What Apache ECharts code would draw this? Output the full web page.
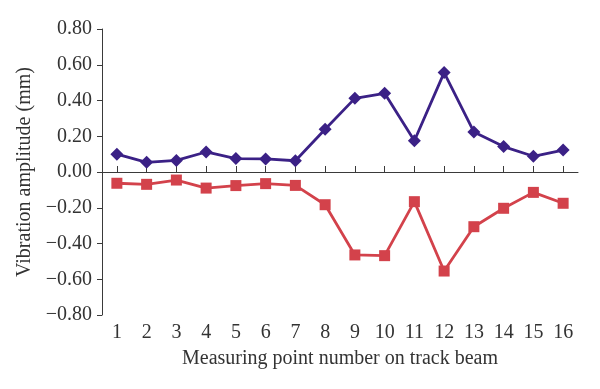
<!DOCTYPE html>
<html>
<head>
<meta charset="utf-8">
<script src="https://cdn.jsdelivr.net/npm/echarts@6/dist/echarts.min.js"></script>
<style>html,body{margin:0;padding:0;background:#fff}#c{width:600px;height:389px}</style>
</head>
<body>
<div id="c"></div>
<script>
var categories = ['1','2','3','4','5','6','7','8','9','10','11','12','13','14','15','16'];
var upperValues = [0.100, 0.054, 0.065, 0.112, 0.075, 0.073, 0.063, 0.239, 0.412, 0.440, 0.175, 0.556, 0.224, 0.142, 0.088, 0.123];
var lowerValues = [-0.063, -0.069, -0.045, -0.090, -0.076, -0.065, -0.075, -0.183, -0.464, -0.468, -0.166, -0.554, -0.306, -0.203, -0.114, -0.175];
var xTitle = 'Measuring point number on track beam';
var yTitle = 'Vibration amplitude (mm)';

var font = '"Liberation Serif", "DejaVu Serif", serif';
var chart = echarts.init(document.getElementById('c'), null, {renderer: 'canvas'});
chart.setOption({
  animation: false,
  backgroundColor: '#ffffff',
  grid: {left: 102, right: 22, top: 29, bottom: 74, containLabel: false},
  xAxis: [{
    type: 'category',
    data: categories,
    boundaryGap: true,
    axisLine: {show: true, onZero: true, lineStyle: {color: '#3a3a3a', width: 1}},
    axisTick: {show: true, inside: true, length: 6, alignWithLabel: true, lineStyle: {color: '#3a3a3a'}},
    axisLabel: {show: false},
    splitLine: {show: false}
  }, {
    type: 'category',
    data: categories,
    position: 'bottom',
    boundaryGap: true,
    axisLine: {show: false, onZero: false},
    axisTick: {show: false},
    axisLabel: {show: true, color: '#333', fontFamily: font, fontSize: 20, margin: 8},
    name: xTitle,
    nameLocation: 'middle',
    nameGap: 34,
    nameTextStyle: {color: '#333', fontFamily: font, fontSize: 20}
  }],
  yAxis: {
    type: 'value',
    min: -0.8,
    max: 0.8,
    interval: 0.2,
    axisLine: {show: true, lineStyle: {color: '#3a3a3a', width: 1}},
    axisTick: {show: true, inside: false, length: 5, lineStyle: {color: '#3a3a3a'}},
    axisLabel: {
      color: '#333', fontFamily: font, fontSize: 20, margin: 10,
      formatter: function (v) { var s = Math.abs(v).toFixed(2); return v < -1e-9 ? '\u2212' + s : s; }
    },
    splitLine: {show: false},
    name: yTitle,
    nameLocation: 'middle',
    nameGap: 57,
    nameTextStyle: {color: '#333', fontFamily: font, fontSize: 20}
  },
  series: [{
    type: 'line',
    data: upperValues,
    xAxisIndex: 0,
    symbol: 'diamond',
    symbolSize: 13,
    lineStyle: {color: '#3b2186', width: 2.8},
    itemStyle: {color: '#3b2186'}
  }, {
    type: 'line',
    data: lowerValues,
    xAxisIndex: 0,
    symbol: 'rect',
    symbolSize: 11,
    lineStyle: {color: '#d3424b', width: 2.8},
    itemStyle: {color: '#d3424b'}
  }]
});
</script>
</body>
</html>
